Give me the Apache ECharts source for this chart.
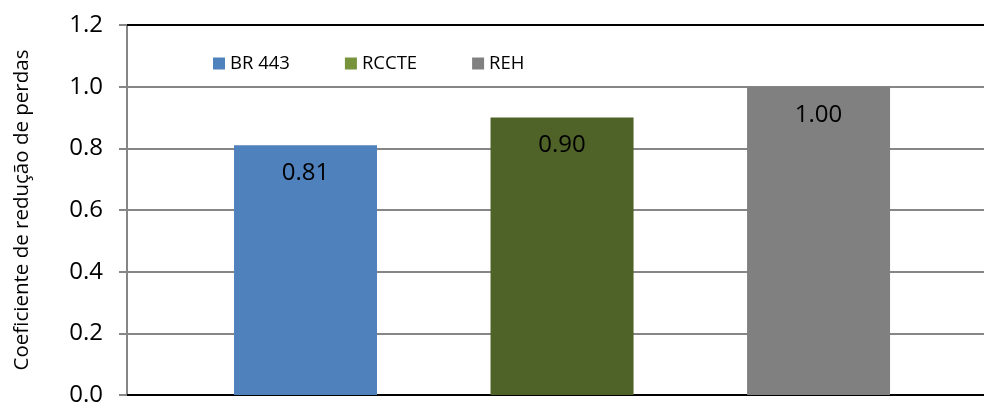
<!DOCTYPE html>
<html>
<head>
<meta charset="utf-8">
<script src="https://cdn.jsdelivr.net/npm/echarts@6/dist/echarts.min.js"></script>
<style>
  html, body { margin: 0; padding: 0; background: #fff; }
  #chart { width: 984px; height: 407px; }
</style>
</head>
<body>
<div id="chart"></div>
<script>
const names = ['BR 443', 'RCCTE', 'REH']
const values = [0.81, 0.90, 1.00]
const positions = [1, 2, 3]
const barColors = ['#4f81bd', '#4f6228', '#808080']
const legendColors = ['#4f81bd', '#77933c', '#808080']
const yTicks = [0, 0.2, 0.4, 0.6, 0.8, 1.0, 1.2]

const chart = echarts.init(document.getElementById('chart'))

const option = {
  backgroundColor: '#fff',
  animation: false,
  textStyle: { fontFamily: '"Open Sans", "Liberation Sans", sans-serif' },
  grid: { left: 127, right: 0, top: 25, bottom: 7 },
  legend: {
    left: 208,
    top: 49,
    itemWidth: 12,
    itemHeight: 12,
    itemGap: 55,
    icon: 'rect',
    textStyle: { fontSize: 18.5, color: '#000' },
    data: names.map((n, i) => ({ name: n, itemStyle: { color: legendColors[i] } }))
  },
  xAxis: [
    {
      type: 'value',
      min: 0.304,
      max: 3.645,
      axisLine: { show: true, onZero: false, lineStyle: { color: '#000', width: 2 } },
      axisTick: { show: false },
      axisLabel: { show: false },
      splitLine: { show: false }
    },
    {
      type: 'value',
      position: 'top',
      min: 0.304,
      max: 3.645,
      axisLine: { show: true, onZero: false, lineStyle: { color: '#000', width: 2 } },
      axisTick: { show: false },
      axisLabel: { show: false },
      splitLine: { show: false }
    }
  ],
  yAxis: {
    type: 'value',
    min: yTicks[0],
    max: yTicks[yTicks.length - 1],
    interval: 0.2,
    name: 'Coeficiente de redução de perdas',
    nameLocation: 'middle',
    nameGap: 94,
    nameTextStyle: { fontSize: 20.5, color: '#000' },
    axisLine: { show: true, lineStyle: { color: '#868686', width: 2 } },
    axisTick: { show: true, length: 8, lineStyle: { color: '#868686', width: 2 } },
    axisLabel: {
      fontSize: 24,
      color: '#000',
      margin: 24,
      formatter: (v) => v.toFixed(1)
    },
    splitLine: { show: true, lineStyle: { color: '#868686', width: 2 } }
  },
  series: names.map((n, i) => ({
    name: n,
    type: 'bar',
    barWidth: 143,
    barGap: '-100%',
    itemStyle: { color: barColors[i] },
    label: {
      show: true,
      position: 'insideTop',
      distance: 16,
      fontSize: 24,
      color: '#000',
      formatter: (p) => p.value[1].toFixed(2)
    },
    data: [[positions[i], values[i]]]
  }))
}

chart.setOption(option)
</script>
</body>
</html>
